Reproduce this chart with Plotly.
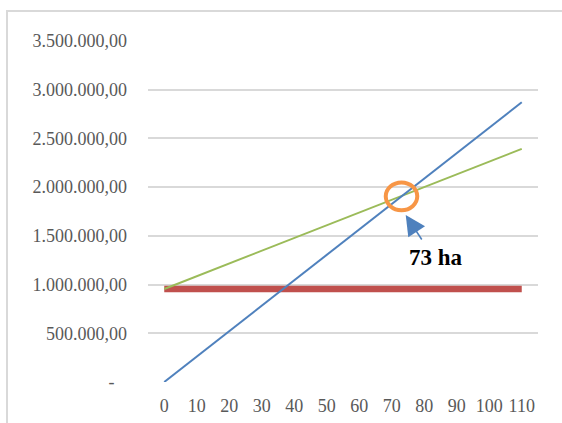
import plotly.graph_objects as go

# Hectares on the category axis
hectares = [0, 10, 20, 30, 40, 50, 60, 70, 80, 90, 100, 110]
# Revenue, total cost and fixed cost per area
revenue = [0, 261000, 522000, 783000, 1044000, 1305000, 1566000,
           1827000, 2088000, 2349000, 2610000, 2871000]
total_cost = [955000, 1085700, 1216400, 1347100, 1477800, 1608500, 1739200,
              1869900, 2000600, 2131300, 2262000, 2392700]
fixed_cost = [955000] * 12

y_tickvals = [0, 500000, 1000000, 1500000, 2000000, 2500000, 3000000, 3500000]
y_ticktext = ["-\u00a0\u00a0\u2009", "500.000,00", "1.000.000,00", "1.500.000,00",
              "2.000.000,00", "2.500.000,00", "3.000.000,00", "3.500.000,00"]

break_even_ha = 73
break_even_label = "73 ha"
# revenue value at the break-even area
break_even_value = revenue[7] + (revenue[8] - revenue[7]) * (break_even_ha - 70) / 10

fig = go.Figure()
fig.add_trace(go.Scatter(x=hectares, y=fixed_cost, mode="lines",
                         line=dict(color="#c0504d", width=6.5)))
fig.add_trace(go.Scatter(x=hectares, y=total_cost, mode="lines",
                         line=dict(color="#9bbb59", width=2)))
fig.add_trace(go.Scatter(x=hectares, y=revenue, mode="lines",
                         line=dict(color="#4f81bd", width=2)))

tick_font = dict(family="Liberation Serif", size=18, color="#595959")

fig.update_layout(
    width=562, height=423,
    margin=dict(l=148, r=24, t=41, b=41),
    paper_bgcolor="white", plot_bgcolor="white",
    showlegend=False,
    xaxis=dict(range=[-5, 115], tickvals=hectares, ticktext=[str(h) for h in hectares],
               showgrid=False, zeroline=False, showline=False, ticks="",
               tickfont=tick_font, ticklabelstandoff=11, automargin=False),
    yaxis=dict(range=[0, 3500000], tickvals=y_tickvals, ticktext=y_ticktext,
               showgrid=True, gridcolor="#d9d9d9", gridwidth=1.8,
               zeroline=False, showline=False, ticks="",
               tickfont=tick_font, ticklabelstandoff=20, automargin=False),
    shapes=[
        # chart frame
        dict(type="rect", xref="paper", yref="paper",
             x0=-0.3615, x1=1.2, y0=-0.2, y1=1.088,
             line=dict(color="#d9d9d9", width=2), layer="below"),
        # break-even marker
        dict(type="circle", xref="x", yref="y",
             x0=break_even_ha - 4.85, x1=break_even_ha + 4.85,
             y0=break_even_value - 143000, y1=break_even_value + 143000,
             line=dict(color="#f79646", width=4)),
    ],
    annotations=[
        dict(x=74.3, y=1714000, xref="x", yref="y", text="", showarrow=True,
             ax=17, ay=26, arrowhead=2, arrowsize=2.5, arrowwidth=1.6,
             arrowcolor="#4f81bd"),
        dict(x=83.75, y=1273000, xref="x", yref="y", text=break_even_label,
             showarrow=False,
             font=dict(family="Liberation Serif", size=23, color="black", weight="bold")),
    ],
)

fig.write_html("out.html")
